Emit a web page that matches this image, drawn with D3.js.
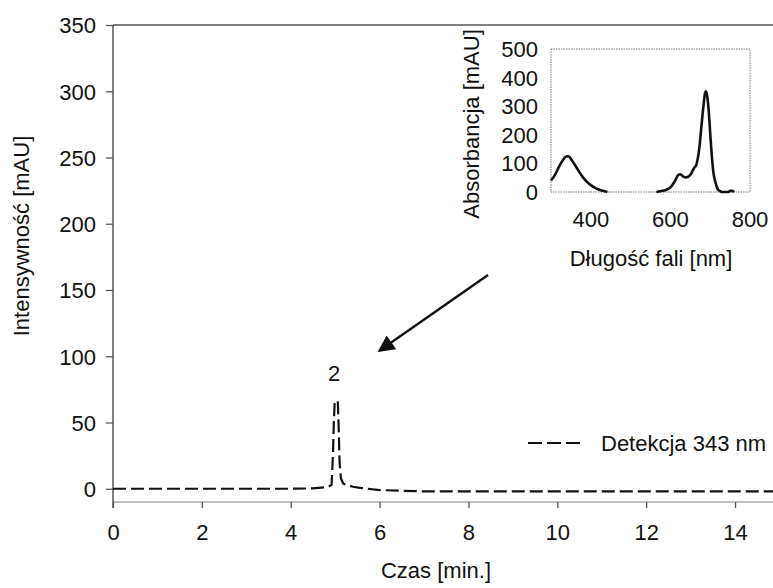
<!DOCTYPE html>
<html>
<head>
<meta charset="utf-8">
<script src="https://cdn.jsdelivr.net/npm/d3@7"></script>
<style>
  body { margin: 0; background: #fff; }
  svg text { font-family: "Liberation Sans", Arial, sans-serif; font-size: 22px; fill: #111; }
</style>
</head>
<body>
<div id="chart"></div>
<script>
// chromatogram (dashed trace)
var chromTime   = [0, 1, 2, 3, 4, 4.5, 4.75, 4.85, 4.92, 4.95, 4.97, 4.99, 5.06, 5.08, 5.1, 5.13, 5.18, 5.25, 5.4, 5.6, 6.0, 6.5, 7.0, 8, 9, 10, 11, 12, 13, 14, 15];
var chromSignal = [0, 0, 0, 0, 0, 0.3, 1, 1.5, 3, 25, 50, 66, 66, 45, 20, 8, 4, 3, 1.5, 0.5, -1, -1.5, -2, -2, -2, -2, -2, -2, -2, -2, -2];

// UV-Vis spectrum in the inset (null = no data)
var specWavelength = [300, 310, 320, 330, 340, 345, 350, 360, 370, 380, 390, 400, 410, 420, 430, 442, 500, 565, 580, 590, 600, 610, 620, 625, 632, 640, 650, 660, 665, 673, 678, 683, 687, 689, 693, 697, 701, 705, 709, 712, 716, 720, 725, 730, 745, 750, 755, 760];
var specAbsorb     = [40, 60, 88, 112, 125, 124, 116, 95, 72, 52, 36, 24, 15, 9, 4, 0, null, 0, 4, 8, 16, 35, 60, 62, 54, 51, 60, 85, 95, 158, 230, 300, 345, 352, 330, 270, 185, 110, 60, 40, 20, 8, 3, 0, 0, 4, 4, 0];

var xTicks = [0, 2, 4, 6, 8, 10, 12, 14];
var yTicks = [0, 50, 100, 150, 200, 250, 300, 350];
var insetXTicks = [400, 600, 800];
var insetYTicks = [0, 100, 200, 300, 400, 500];

var W = 773, H = 588;
var svg = d3.select("#chart").append("svg")
    .attr("width", W)
    .attr("height", H);

// main scales
var x = d3.scaleLinear().domain([0, 15]).range([113, 113 + 15 * 44.43]);
var y = d3.scaleLinear().domain([-10, 350]).range([502, 25]);

// frame lines
svg.append("line")
    .attr("x1", x(0)).attr("x2", W)
    .attr("y1", y(350)).attr("y2", y(350))
    .attr("stroke", "#555").attr("stroke-width", 1.5);
svg.append("line")
    .attr("x1", x(0)).attr("x2", W)
    .attr("y1", y(-10)).attr("y2", y(-10))
    .attr("stroke", "#aaa").attr("stroke-width", 1.5);
svg.append("line")
    .attr("x1", x(0)).attr("x2", x(0))
    .attr("y1", y(350)).attr("y2", y(-10) + 6)
    .attr("stroke", "#555").attr("stroke-width", 1.5);

// y axis
var yAxis = svg.append("g")
    .attr("transform", "translate(" + x(0) + ",0)")
    .call(d3.axisLeft(y).tickValues(yTicks).tickSize(7).tickPadding(10));
yAxis.select(".domain").remove();
yAxis.selectAll(".tick line").attr("stroke", "#555").attr("stroke-width", 1.3);
yAxis.selectAll("text").attr("dy", "0.36em").style("font-size", "22px")
    .attr("font-family", null);

// x axis
var xAxis = svg.append("g")
    .attr("transform", "translate(0," + y(-10) + ")")
    .call(d3.axisBottom(x).tickValues(xTicks).tickSize(6).tickPadding(16));
xAxis.select(".domain").remove();
xAxis.selectAll(".tick line").attr("stroke", "#555").attr("stroke-width", 1.3);
xAxis.selectAll("text").style("font-size", "22px").attr("font-family", null);

// axis titles
svg.append("text")
    .attr("x", 436).attr("y", 578)
    .attr("text-anchor", "middle")
    .text("Czas [min.]");
svg.append("text")
    .attr("transform", "translate(29,236) rotate(-90)")
    .attr("text-anchor", "middle")
    .text("Intensywność [mAU]");

// chromatogram trace
var chromData = chromTime.map(function(t, i) { return {t: t, v: chromSignal[i]}; });
var chromLine = d3.line()
    .x(function(d) { return x(d.t); })
    .y(function(d) { return y(d.v); });
svg.append("path")
    .datum(chromData)
    .attr("d", chromLine)
    .attr("fill", "none")
    .attr("stroke", "#111")
    .attr("stroke-width", 2.2)
    .attr("stroke-dasharray", "13,5");

// peak label
svg.append("text")
    .attr("x", 334).attr("y", 381)
    .attr("text-anchor", "middle")
    .text("2");

// legend
svg.append("line")
    .attr("x1", 528).attr("x2", 580)
    .attr("y1", 443).attr("y2", 443)
    .attr("stroke", "#111").attr("stroke-width", 2.2)
    .attr("stroke-dasharray", "14,5");
svg.append("text")
    .attr("x", 601).attr("y", 451)
    .text("Detekcja 343 nm");

// arrow
svg.append("defs").append("marker")
    .attr("id", "head")
    .attr("viewBox", "0 0 10 10")
    .attr("refX", 9).attr("refY", 5)
    .attr("markerWidth", 8).attr("markerHeight", 7)
    .attr("markerUnits", "strokeWidth")
    .attr("orient", "auto")
  .append("path")
    .attr("d", "M0,0 L10,5 L0,10 z")
    .attr("fill", "#111");
svg.append("line")
    .attr("x1", 488).attr("y1", 275)
    .attr("x2", 379).attr("y2", 351)
    .attr("stroke", "#111").attr("stroke-width", 2.4)
    .attr("marker-end", "url(#head)");

// ---- inset ----
var ix = d3.scaleLinear().domain([300, 800]).range([551, 750]);
var iy = d3.scaleLinear().domain([0, 500]).range([192, 49]);

svg.append("rect")
    .attr("x", ix(300)).attr("y", iy(500))
    .attr("width", ix(800) - ix(300))
    .attr("height", iy(0) - iy(500))
    .attr("fill", "none")
    .attr("stroke", "#777")
    .attr("stroke-width", 1)
    .attr("stroke-dasharray", "1.5,1");

svg.selectAll(".iytick")
  .data(insetYTicks)
  .enter().append("text")
    .attr("class", "iytick")
    .attr("x", 538)
    .attr("y", function(d) { return iy(d); })
    .attr("dy", "0.36em")
    .attr("text-anchor", "end")
    .text(function(d) { return d; });

svg.selectAll(".ixtick")
  .data(insetXTicks)
  .enter().append("text")
    .attr("class", "ixtick")
    .attr("x", function(d) { return ix(d); })
    .attr("y", 226.5)
    .attr("text-anchor", "middle")
    .text(function(d) { return d; });

svg.append("text")
    .attr("x", 651).attr("y", 266)
    .attr("text-anchor", "middle")
    .text("Długość fali [nm]");
svg.append("text")
    .attr("transform", "translate(479,124) rotate(-90)")
    .attr("text-anchor", "middle")
    .text("Absorbancja [mAU]");

var specData = specWavelength.map(function(w, i) { return {w: w, a: specAbsorb[i]}; });
var specLine = d3.line()
    .defined(function(d) { return d.a !== null; })
    .x(function(d) { return ix(d.w); })
    .y(function(d) { return iy(d.a); })
    .curve(d3.curveMonotoneX);
svg.append("path")
    .datum(specData)
    .attr("d", specLine)
    .attr("fill", "none")
    .attr("stroke", "#111")
    .attr("stroke-width", 2.6)
    .attr("stroke-linejoin", "round");
</script>
</body>
</html>
